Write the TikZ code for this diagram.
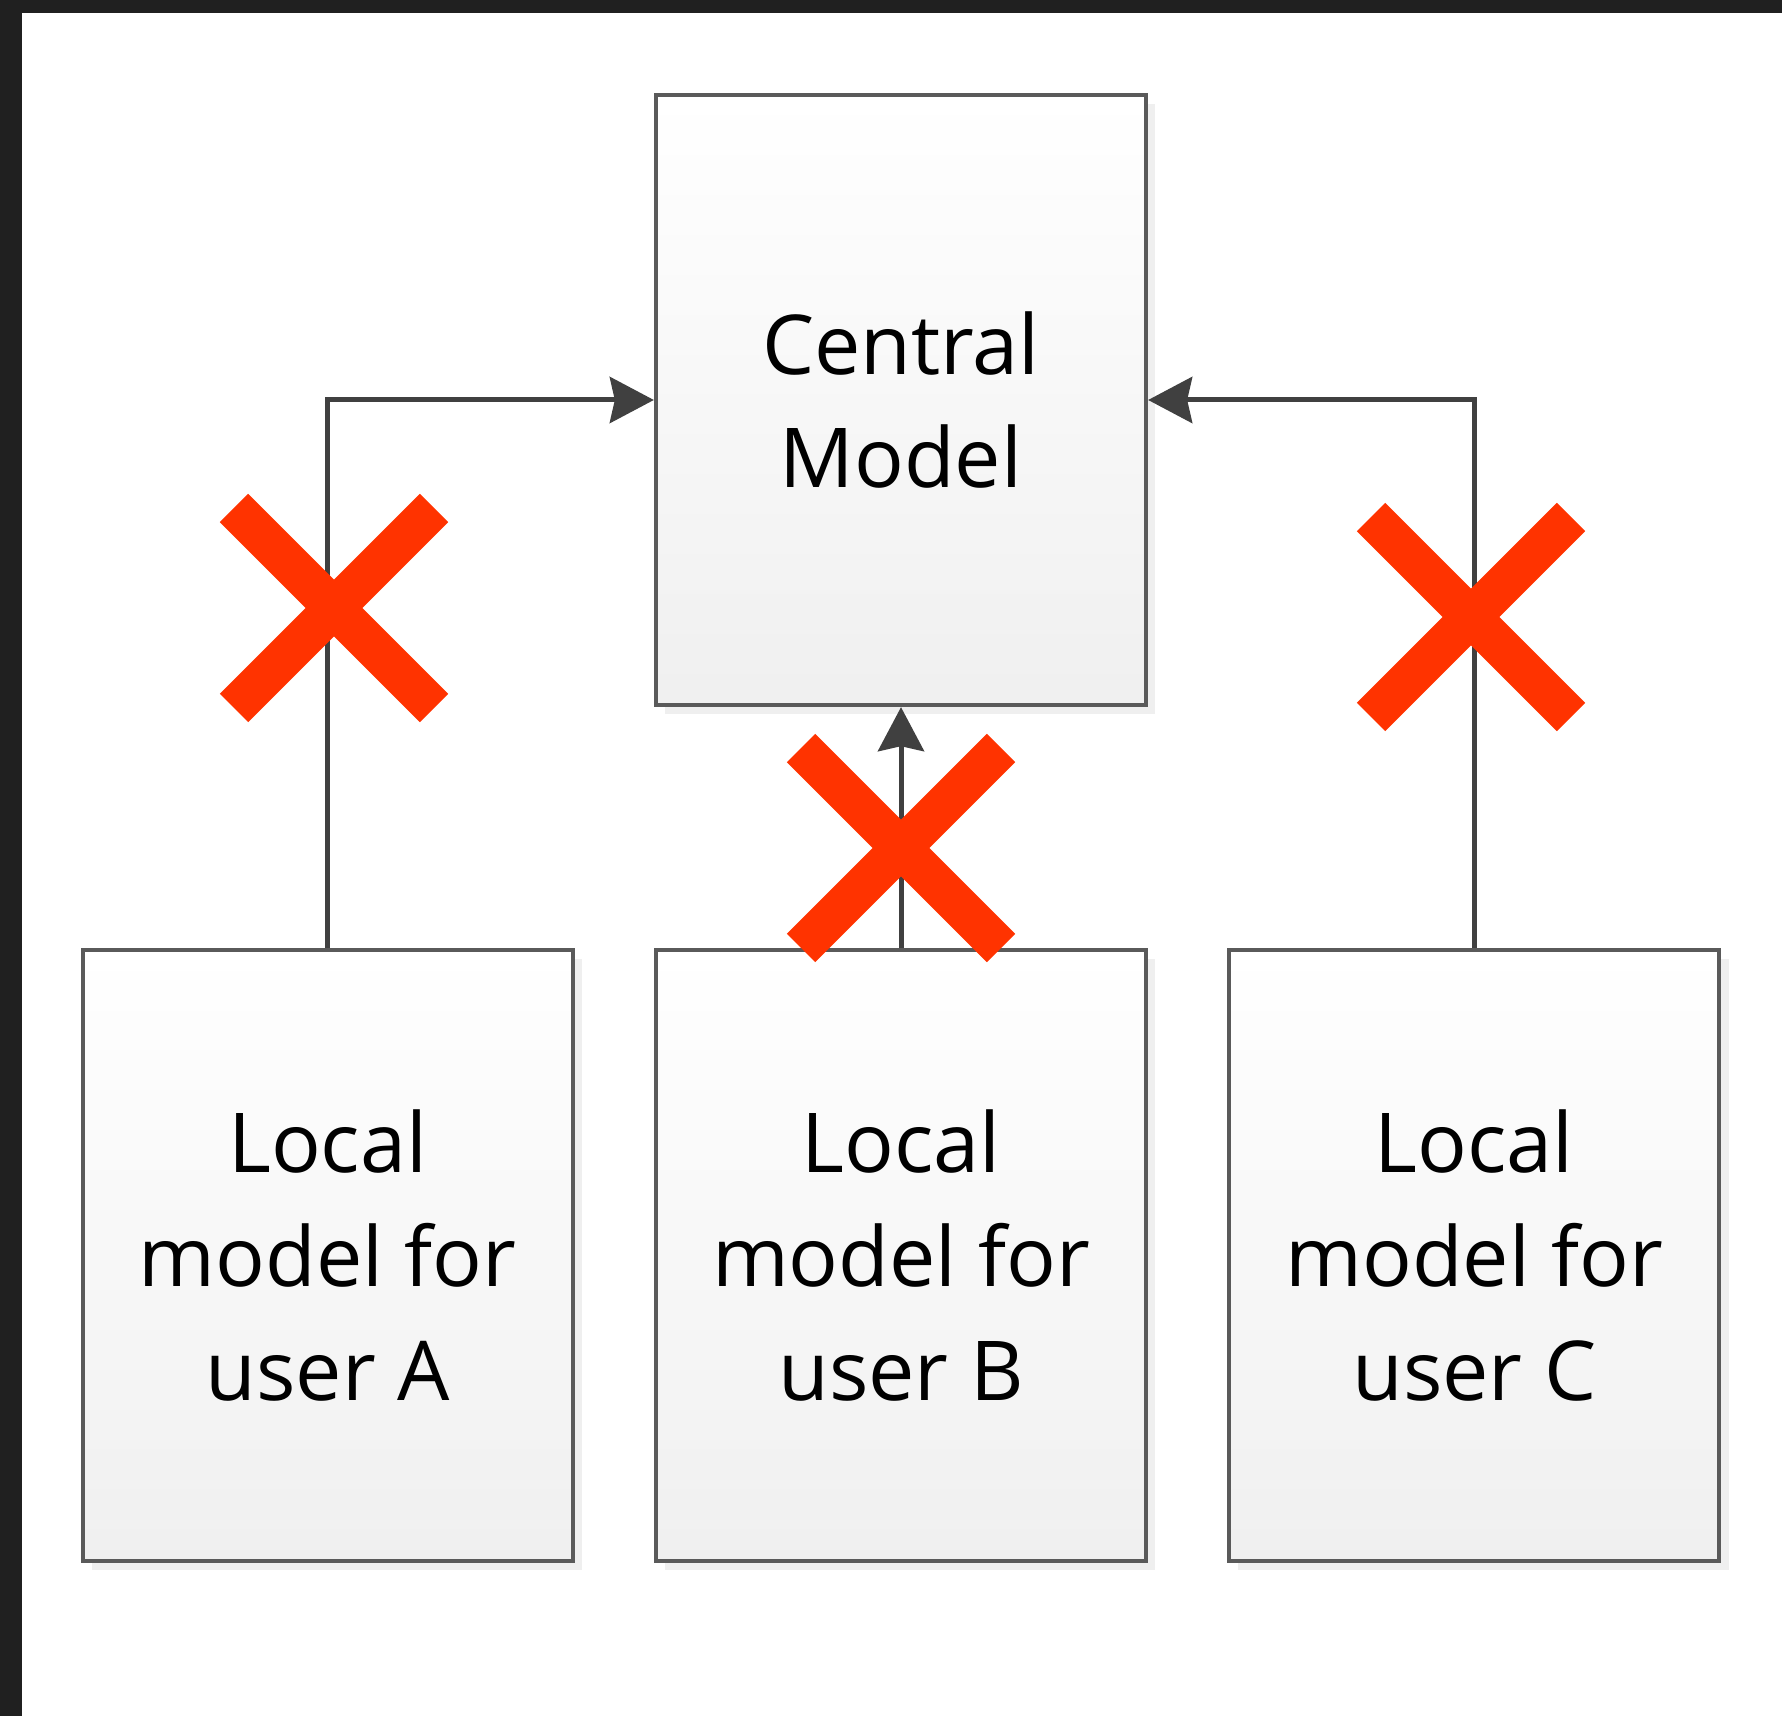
\documentclass[tikz,border=0pt]{standalone}
\usepackage{fontspec}
\setmainfont{Open Sans}
\usetikzlibrary{positioning,shadows,arrows.meta}
\definecolor{framegray}{HTML}{202020}
\definecolor{linegray}{HTML}{404040}
\definecolor{boxline}{HTML}{5A5A5A}
\definecolor{crossred}{HTML}{FF3300}

\begin{document}
\begin{tikzpicture}[
    x=0.01cm, y=-0.01cm,
    node distance=2.41cm,
    >={Stealth[length=0.44cm,width=0.46cm,inset=0.05cm]},
    block/.style={rectangle, draw=boxline, line width=0.04cm,
        top color=white, bottom color=black!6,
        minimum width=4.9cm, minimum height=6.1cm,
        align=center, font=\fontsize{23.5}{32.4}\selectfont,
        drop shadow={opacity=0.12, shadow xshift=0.09cm, shadow yshift=-0.09cm}},
    link/.style={->, draw=linegray, line width=0.05cm},
    nope/.style={draw=crossred, line width=0.4cm}
]
% Frame
\fill [framegray] (0,0) rectangle (1782,1716);
\fill [white] (22,13) rectangle (1782,1716);

% Blocks
\node [block] (central) at (901,400) {Central\\Model};
\node [block, below=of central] (userB) {Local\\model for\\user B};
\node [block, left=0.79cm of userB] (userA) {Local\\model for\\user A};
\node [block, right=0.79cm of userB] (userC) {Local\\model for\\user C};

% Connections
\draw [link] (userA.north) |- (central.west);
\draw [link] (userB.north) -- (central.south);
\draw [link] (userC.north) |- (central.east);

% Crosses
\foreach \cx/\cy in {334/608, 901/848, 1471/617}
    \draw [nope] (\cx-100,\cy-100) -- (\cx+100,\cy+100)
                 (\cx-100,\cy+100) -- (\cx+100,\cy-100);
\end{tikzpicture}
\end{document}
